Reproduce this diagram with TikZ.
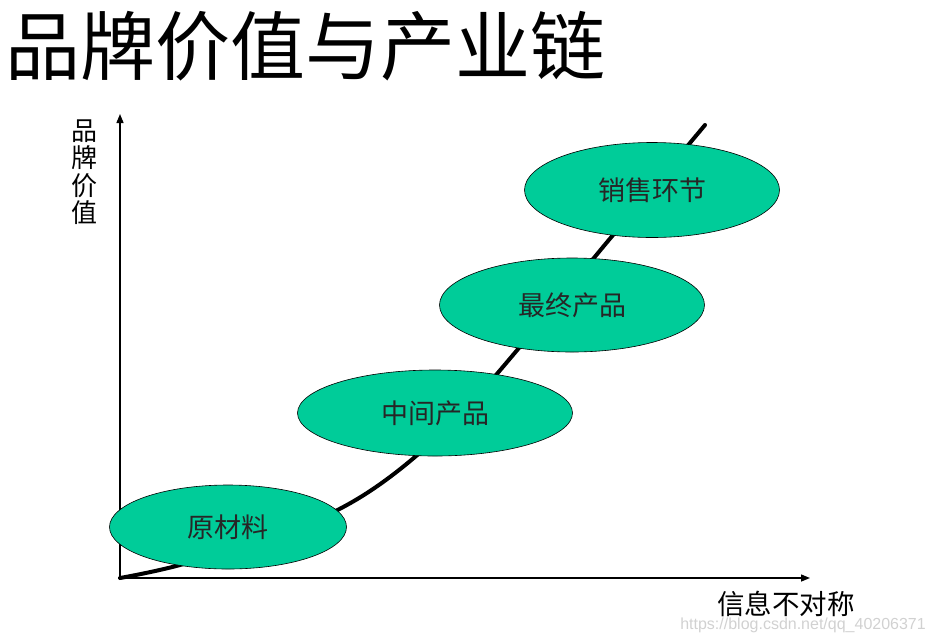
\documentclass[tikz,border=0pt]{standalone}
\usepackage{fontspec}
\newfontfamily\cjk{Noto Sans CJK SC}
\newfontfamily\wmfont{Liberation Sans}
\usetikzlibrary{shapes.geometric,arrows.meta}
\definecolor{stagegreen}{RGB}{0,204,153}
\tikzset{
  stage/.style={ellipse, draw=black, line width=0.6pt, fill=stagegreen, inner sep=0pt,
    font=\cjk\fontsize{27}{27}\selectfont, text=black!85},
  axis/.style={line width=1.4pt, -{Triangle[length=9pt,width=7pt]}},
  curve/.style={line width=4pt, black},
}
\begin{document}
\begin{tikzpicture}[x=1pt,y=-1pt]
\useasboundingbox (0,0) rectangle (933,643);
\node[anchor=west, inner sep=0pt, font=\cjk\fontsize{75}{75}\selectfont] (title) at (5,46) {品牌价值与产业链};
% axes
\coordinate (origin) at (120,580);
\coordinate (ytip) at (120,114);
\coordinate (xtip) at (810,578);
\draw[axis] (origin) -- (ytip);
\draw[axis] (118,578) coordinate (xstart) -- (xtip);
\node[align=center, inner sep=0pt, font=\cjk\fontsize{26}{27.5}\selectfont] (ylabel) at (84,172) {品\\牌\\价\\值};
\node[inner sep=0pt, font=\cjk\fontsize{27.5}{27.5}\selectfont] (xlabel) at (786,604) {信息不对称};
% curve
\draw[curve, line cap=round] plot[smooth, tension=0.6] coordinates {(120,578) (180,565) (280,535) (367,493) (450,425) (530,335) (603,247) (705,125)};
% stages
\node[stage, minimum width=237pt, minimum height=84pt] (raw) at (228,527) {原材料};
\node[stage, minimum width=275pt, minimum height=86pt] (mid) at (435,413) {中间产品};
\node[stage, minimum width=265pt, minimum height=94pt] (final) at (572,305) {最终产品};
\node[stage, minimum width=255pt, minimum height=95pt] (sales) at (652,190) {销售环节};
% watermark
\node[anchor=east, inner sep=0pt, text=black!18, font=\wmfont\fontsize{16}{16}\selectfont] (wm) at (926,625) {https://blog.csdn.net/qq\_40206371};
\end{tikzpicture}
\end{document}
